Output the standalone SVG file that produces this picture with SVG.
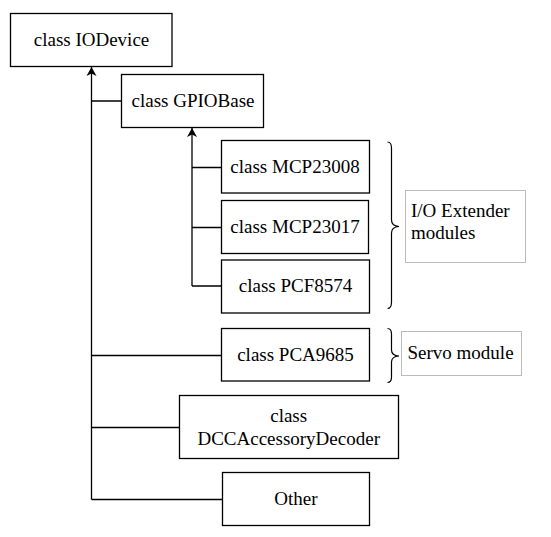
<svg xmlns="http://www.w3.org/2000/svg" width="551" height="537" viewBox="0 0 551 537">
<style>
.n rect{fill:#fff;stroke:#000;stroke-width:1.3}
.c{fill:none;stroke:#000;stroke-width:1.3}
.b{fill:none;stroke:#000;stroke-width:1.2}
.g rect{fill:#fff;stroke:#bbb;stroke-width:1}
.m{text-anchor:middle}
</style>
<defs>
<marker id="ar" markerWidth="12" markerHeight="12" refX="11" refY="6" orient="auto" markerUnits="userSpaceOnUse" viewBox="0 0 12 12">
<path d="M11,6 L2,1 L4.5,6 L2,11 Z" fill="#000"/>
</marker>
</defs>
<rect width="551" height="537" fill="#fff"/>
<g id="connectors">
<path class="c" d="M91.5,499.5 V67" marker-end="url(#ar)"/>
<path class="c" d="M91.5,101 H121 M91.5,355.5 H221 M91.5,427.5 H179 M91.5,499.5 H222"/>
<path class="c" d="M192,286 V128" marker-end="url(#ar)"/>
<path class="c" d="M192,167.5 H221 M192,227.5 H221 M192,286 H221"/>
</g>
<g id="brace1"><path class="b" d="M387.5,142 Q391.5,142 391.5,148 V220 Q391.5,226 399,226.5 Q391.5,227 391.5,233 V302 Q391.5,308.5 387.5,308.5"/></g>
<g id="brace2"><path class="b" d="M387.5,328.5 Q391.5,328.5 391.5,334 V350 Q391.5,355.5 399,356 Q391.5,356.5 391.5,362 V377 Q391.5,382.5 387.5,382.5"/></g>
<g font-family="Liberation Serif" font-size="19" fill="#000">
<g id="IODevice" class="n"><rect x="10.5" y="13.5" width="161.5" height="53"/><text class="m" x="91.5" y="45.5">class IODevice</text></g>
<g id="GPIOBase" class="n"><rect x="121.5" y="74.5" width="142" height="53"/><text class="m" x="193" y="106.5">class GPIOBase</text></g>
<g id="MCP23008" class="n"><rect x="221.5" y="140.5" width="148" height="52.5"/><text class="m" x="295" y="173">class MCP23008</text></g>
<g id="MCP23017" class="n"><rect x="221.5" y="200.5" width="147" height="53"/><text class="m" x="295" y="233">class MCP23017</text></g>
<g id="PCF8574" class="n"><rect x="221.5" y="260" width="148" height="53"/><text class="m" x="295.5" y="291.5">class PCF8574</text></g>
<g id="PCA9685" class="n"><rect x="221.5" y="328.5" width="148" height="52.5"/><text class="m" x="295.5" y="360.5">class PCA9685</text></g>
<g id="DCCAccessoryDecoder" class="n"><rect x="179.5" y="395.5" width="219" height="63"/><text class="m" x="288.7" y="422">class</text><text class="m" x="288.7" y="445">DCCAccessoryDecoder</text></g>
<g id="Other" class="n"><rect x="222.5" y="472.5" width="147" height="53"/><text class="m" x="296" y="504.5">Other</text></g>
<g id="IOExtender" class="g"><rect x="405.5" y="190.5" width="120" height="72"/><text x="411" y="217">I/O Extender</text><text x="411" y="239">modules</text></g>
<g id="Servo" class="g"><rect x="401.5" y="331.5" width="120" height="44"/><text x="407.5" y="358.5">Servo module</text></g>
</g>
</svg>
